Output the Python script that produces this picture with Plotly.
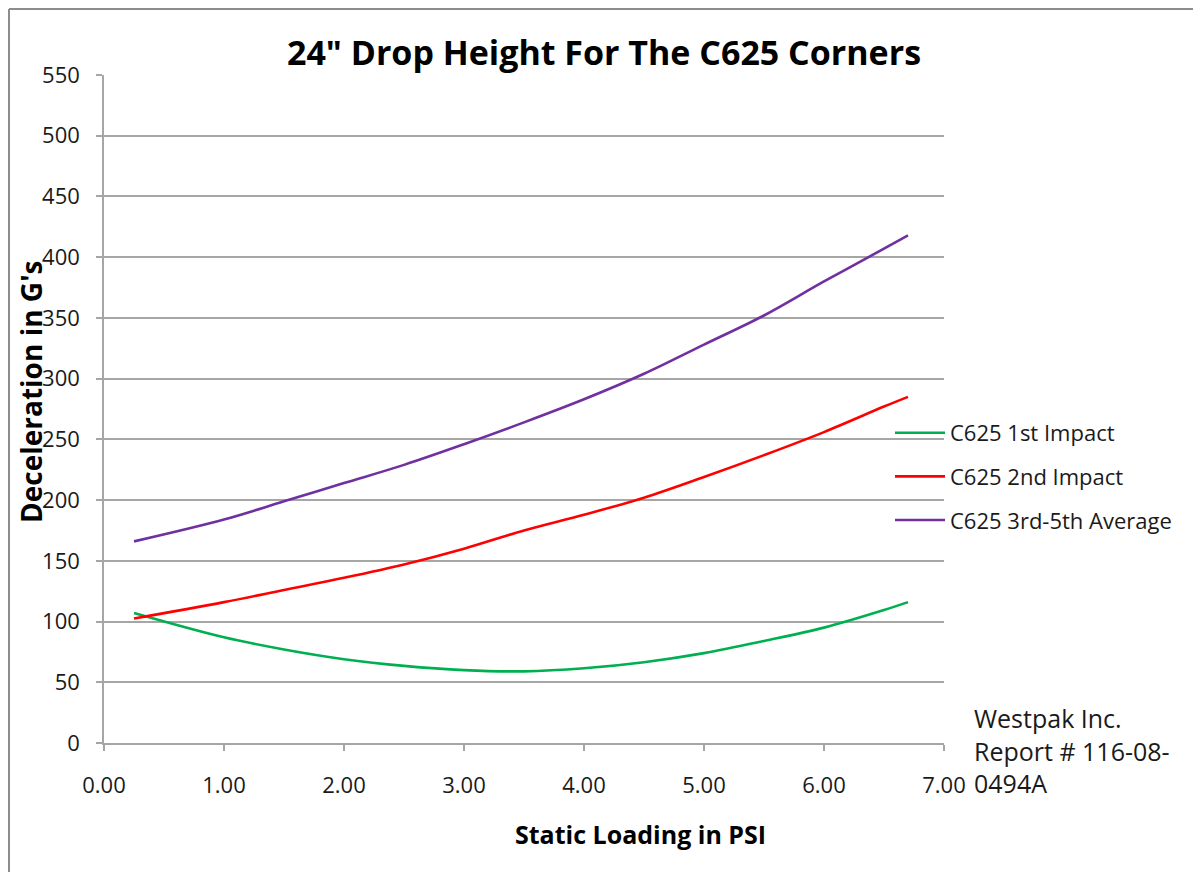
import plotly.graph_objects as go

# ---- data ----
psi = [0.25, 1.0, 1.5, 2.0, 2.5, 3.0, 3.5, 4.0, 4.5, 5.0, 5.5, 6.0, 6.5, 6.7]
first_impact = [107, 87, 77, 69, 63.5, 60, 59, 61.5, 66.5, 74, 84, 95, 109.5, 116]
second_impact = [102.5, 116, 126, 136, 147, 160, 175, 188, 202, 219, 237, 256, 277, 285]
avg_3_5 = [166, 184, 199, 214, 229, 246, 264, 283, 304, 328, 352, 380, 407, 418]

series_names = ["C625 1st Impact", "C625 2nd Impact", "C625 3rd-5th Average"]
series_colors = ["#00b050", "#ff0000", "#7030a0"]

x_ticks = [0, 1, 2, 3, 4, 5, 6, 7]
y_ticks = list(range(0, 551, 50))

# page has an 8px body margin; figure coordinates = page coordinates - 8
OFF = 8
W, H = 1193, 864
L, R, T, B = 96, 257, 67, 129
pw, ph = W - L - R, H - T - B

def px_x(p):
    return (p - OFF - L) / pw

def px_y(p):
    return (H - B - (p - OFF)) / ph

FONT = "Open Sans"
GRID = "#a6a6a6"

fig = go.Figure()
for i, (name, vals, col) in enumerate(zip(series_names, [first_impact, second_impact, avg_3_5], series_colors)):
    fig.add_trace(go.Scatter(
        x=psi, y=vals, mode="lines", name=name,
        line=dict(color=col, width=2.6, shape="spline", smoothing=1.0),
        legendgroup=f"g{i}",
    ))

fig.update_layout(
    width=W, height=H,
    margin=dict(l=L, r=R, t=T, b=B),
    paper_bgcolor="white", plot_bgcolor="white",
    font=dict(family=FONT, color="#1a1a1a"),
    title=dict(text="<b>24\" Drop Height For The C625 Corners</b>",
               x=(604 - OFF) / W, xanchor="center", y=1 - (53 - OFF) / H, yanchor="middle",
               font=dict(family=FONT, size=34, color="black")),
    showlegend=True,
    legend=dict(x=px_x(890), xanchor="left", y=px_y(412), yanchor="top",
                font=dict(family=FONT, size=22, color="#1a1a1a"),
                tracegroupgap=12, bgcolor="rgba(0,0,0,0)", itemwidth=50,
                traceorder="grouped"),
)

fig.update_xaxes(
    range=[0, 7], tickvals=x_ticks, ticktext=[f"{v:.2f}" for v in x_ticks],
    showgrid=False, showline=True, linecolor=GRID, linewidth=1.5,
    ticks="outside", ticklen=6, tickcolor=GRID, tickwidth=1.5,
    tickfont=dict(family=FONT, size=22, color="#1a1a1a"), ticklabelstandoff=16,
    zeroline=False,
)
fig.update_yaxes(
    range=[0, 550], tickvals=y_ticks,
    showgrid=True, gridcolor=GRID, gridwidth=1.5,
    showline=True, linecolor=GRID, linewidth=1.5,
    ticks="outside", ticklen=6, tickcolor=GRID, tickwidth=1.5,
    tickfont=dict(family=FONT, size=22, color="#1a1a1a"), ticklabelstandoff=12,
    zeroline=False,
)

# axis titles
fig.add_annotation(text="<b>Static Loading in PSI</b>", x=px_x(640), y=px_y(834),
                   xref="paper", yref="paper", showarrow=False,
                   font=dict(family=FONT, size=25, color="black"),
                   xanchor="center", yanchor="middle")
fig.add_annotation(text="<b>Deceleration in G's</b>", x=px_x(31), y=px_y(392),
                   xref="paper", yref="paper", showarrow=False, textangle=-90,
                   font=dict(family=FONT, size=28, color="black"),
                   xanchor="center", yanchor="middle")
# source note
fig.add_annotation(text="Westpak Inc.<br>Report # 116-08-<br>0494A", x=px_x(972), y=px_y(699),
                   xref="paper", yref="paper", showarrow=False, align="left",
                   font=dict(family=FONT, size=25, color="#1a1a1a"),
                   xanchor="left", yanchor="top")

# chart frame (left and top edges)
fig.add_shape(type="line", xref="paper", yref="paper",
              x0=px_x(9), x1=px_x(9), y0=px_y(9), y1=px_y(H + 20),
              line=dict(color="#8c8c8c", width=2))
fig.add_shape(type="line", xref="paper", yref="paper",
              x0=px_x(9), x1=px_x(W + 20), y0=px_y(9), y1=px_y(9),
              line=dict(color="#8c8c8c", width=2))

fig.write_html("out.html")
